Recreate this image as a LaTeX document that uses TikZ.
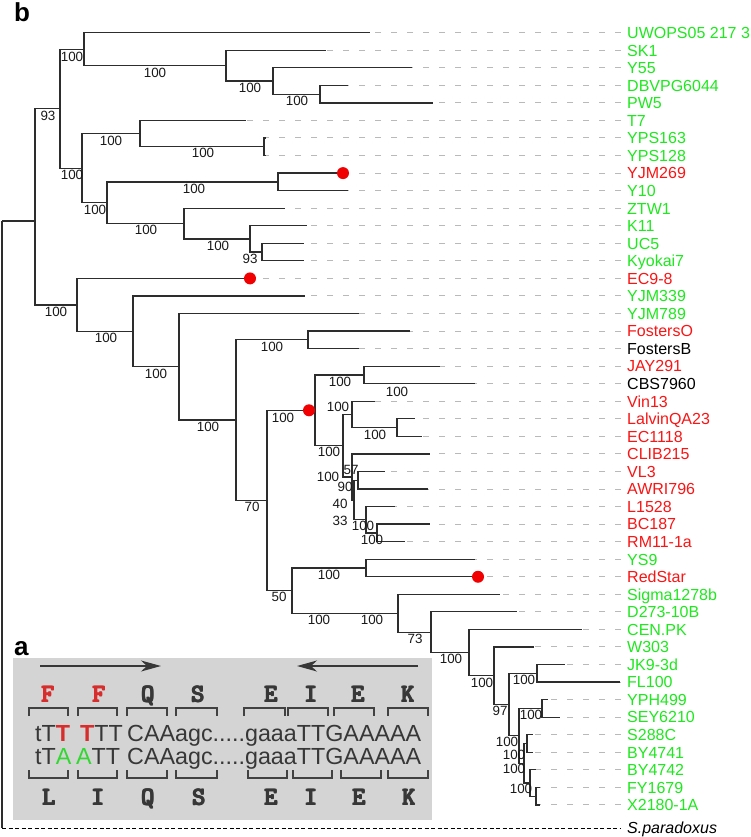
\documentclass[tikz,border=0pt]{standalone}
\usepackage{fontspec}
\setmainfont{Liberation Sans}
\usetikzlibrary{arrows.meta,calc}
\newcommand\fatletter[1]{\rlap{#1}\rlap{\kern0.8pt#1}\rlap{\kern1.6pt#1}\rlap{\raisebox{0.8pt}{#1}}\rlap{\kern0.8pt\raisebox{0.8pt}{#1}}\rlap{\kern1.6pt\raisebox{0.8pt}{#1}}\phantom{#1}}
\definecolor{lg}{RGB}{30,232,30}
\definecolor{lr}{RGB}{250,20,20}
\definecolor{lk}{RGB}{0,0,0}
\definecolor{treec}{RGB}{45,45,45}
\definecolor{dashgrey}{RGB}{185,185,185}
\definecolor{panelbg}{RGB}{212,212,212}
\definecolor{paneltxt}{RGB}{55,55,55}
\definecolor{brkc}{RGB}{65,65,65}
\definecolor{mutred}{RGB}{215,45,45}
\definecolor{mutgreen}{RGB}{50,215,50}
\definecolor{dotred}{RGB}{240,0,0}
\begin{document}
\begin{tikzpicture}[x=1pt,y=-1pt,
  tree/.style={draw=treec,line width=1.25pt},
  leafdash/.style={draw=dashgrey,line width=1pt,dash pattern=on 6pt off 10pt},
  spdash/.style={draw=black,line width=1pt,dash pattern=on 4pt off 2.5pt},
  leaflab/.style={inner sep=0pt,anchor=base west,font=\fontsize{16}{19}\selectfont},
  boot/.style={inner sep=0pt,text=black!90,font=\fontsize{13.4}{15}\selectfont},
  dot/.style={circle,fill=dotred,inner sep=0pt,minimum size=12pt},
  aa/.style={inner sep=0pt,anchor=base,text=paneltxt,font=\fontsize{25}{27}\selectfont\ttfamily},
  seq/.style={inner sep=0pt,anchor=base west,text=paneltxt,text height=16pt,text depth=0pt,font=\fontsize{23.3}{26}\selectfont},
  brk/.style={draw=brkc,line width=2.6pt},
  parr/.style={draw=paneltxt,line width=1.2pt,-{Stealth[length=20pt,width=11pt,inset=6pt]}},
  plabel/.style={inner sep=0pt,anchor=base west,font=\fontsize{26}{28}\selectfont\bfseries}
]
\useasboundingbox (0,0) rectangle (751,837);

% panel label b
\node[plabel] (pb) at (14,22) {b};

% leaves
\foreach \i/\xe/\c/\lab in {
 1/370/lg/UWOPS05 217 3, 2/326/lg/SK1, 3/412/lg/Y55, 4/348/lg/DBVPG6044,
 5/433/lg/PW5, 6/246/lg/T7, 7/266/lg/YPS163, 8/266/lg/YPS128,
 9/343/lr/YJM269, 10/348/lg/Y10, 11/285/lg/ZTW1, 12/307/lg/K11,
 13/304/lg/UC5, 14/304/lg/Kyokai7, 15/250/lr/EC9-8, 16/305/lg/YJM339,
 17/359/lg/YJM789, 18/410/lr/FostersO, 19/359/lk/FostersB, 20/440/lr/JAY291,
 21/475/lk/CBS7960, 22/375/lr/Vin13, 23/415/lr/LalvinQA23, 24/422/lr/EC1118,
 25/430/lr/CLIB215, 26/385/lr/VL3, 27/428/lr/AWRI796, 28/395/lr/L1528,
 29/430/lr/BC187, 30/405/lr/RM11-1a, 31/475/lg/YS9, 32/478/lr/RedStar,
 33/500/lg/Sigma1278b, 34/517/lg/D273-10B, 35/582/lg/CEN.PK, 36/534/lg/W303,
 37/565/lg/JK9-3d, 38/620/lg/FL100, 39/548/lg/YPH499, 40/560/lg/SEY6210,
 41/533/lg/S288C, 42/533/lg/BY4741, 43/536/lg/BY4742, 44/540/lg/FY1679,
 45/540/lg/X2180-1A}{
  \pgfmathsetmacro{\yy}{32.7+(\i-1)*17.55}
  \coordinate (e\i) at (\xe,\yy);
  \coordinate (d\i) at (621,\yy);
  \node[leaflab,text=\c] (l\i) at (627,\yy+5.8) {\lab};
  \draw[leafdash] (d\i) -- (e\i);
}

% internal nodes
\foreach \n/\nx/\ny in {
 G/320/94.13, F/273/80.96, E/226/65.6, C/84/49.15, J/264/146.78, H/140/133.6,
 K/278/181.88, N/262/252.08, M/250/238.9, L/184/223.55, I/107/202.7, D/82/168.15,
 B/60/108.65, S/308/339.83, W/364/374.93, Z/397/427.58, Y/352/414.4,
 AC/358/480.23, AE/377/532.88, AD/366/519.7, AB/354/499.97, AA/352/476.9,
 X/343/445.67, U/315/410.3, AF/366/567.98, AN/542/708.38, AP/527/743.48,
 AR/536/796.13, AQ/530/782.97, AO/524/763.2, AM/519/735.8, AL/537/673.28,
 AK/509/704.5, AJ/494/675.7, AI/469/652.6, AH/431/632.2, AG/398/613.3,
 V/292/590.6, T/267/500.3, R/236/420.1, Q/179/366.8, P/133/331.4,
 O/77/304.9, A/35/221}{
  \coordinate (\n) at (\nx,\ny);
}
\coordinate (root) at (2,221);
\coordinate (rootb) at (2,828);
\coordinate (d46) at (621,828);
\node[leaflab,font=\fontsize{16}{19}\selectfont\itshape] (l46) at (627,833.8) {S.paradoxus};
\draw[spdash] (rootb) -- (d46);

% edges
\draw[tree] (root) -- (rootb);
\draw[tree] (root) -- (A);
\foreach \p/\ch in {
 C/e1, C/E, E/e2, E/F, F/e3, F/G, G/e4, G/e5,
 B/C, B/D, D/H, D/I, H/e6, H/J, J/e7, J/e8,
 I/K, I/L, K/e9, K/e10, L/e11, L/M, M/e12, M/N, N/e13, N/e14,
 A/B, A/O, O/e15, O/P, P/e16, P/Q, Q/e17, Q/R, R/S, R/T, S/e18, S/e19,
 T/U, T/V, U/W, U/X, W/e20, W/e21, X/Y, X/AA, Y/e22, Y/Z, Z/e23, Z/e24,
 AA/e25, AA/AB, AB/AC, AB/AD, AC/e26, AC/e27, AD/e28, AD/AE, AE/e29, AE/e30,
 V/AF, V/AG, AF/e31, AF/e32, AG/e33, AG/AH, AH/e34, AH/AI, AI/e35, AI/AJ,
 AJ/e36, AJ/AK, AK/AL, AK/AM, AL/e37, AL/e38, AM/AN, AM/AO, AN/e39, AN/e40,
 AO/AP, AO/AQ, AP/e41, AP/e42, AQ/e43, AQ/AR, AR/e44, AR/e45}{
  \draw[tree] (\p) |- (\ch);
}

% red dots
\node[dot] (dot9) at (e9) {};
\node[dot] (dot15) at (e15) {};
\node[dot] (dot32) at (e32) {};
\node[dot] (dotU) at ($(U)+(-6,0)$) {};

% bootstrap values
\foreach \bx/\by/\bt [count=\k] in {
 72/57/100, 155/73/100, 250/88/100, 297/101/100, 48/116/93, 111/141/100,
 203/153/100, 72/175/100, 194/189/100, 95/210/100, 146/230/100, 218/246/100,
 250/259/93, 56/312/100, 106/338/100, 156/374/100, 272/347/100, 208/427/100,
 340/382/100, 397/392/100, 338/407/100, 375/435/100, 283/418/100, 329/452/100,
 351/470/57, 328/477/100, 345/487/90, 340/504/40, 340/521/33, 363/526/100,
 372/540/100, 252/507/70, 329/575/100, 279/597/50, 319/620/100, 372/620/100,
 415/639/73, 451/659/100, 482/683/100, 524/680/100, 500/711/97, 531/715/100,
 507/742/100, 514/755/100, 514/769/100, 521/789/100}{
  \node[boot] (bs\k) at (\bx,\by) {\bt};
}

% ---- panel a ----
\node[plabel] (pa) at (14,655) {a};
\fill[panelbg] (13,658) rectangle (432,820);
\coordinate (ar1s) at (40,666);  \coordinate (ar1e) at (161,666);
\coordinate (ar2s) at (418,666); \coordinate (ar2e) at (297,666);
\draw[parr] (ar1s) -- (ar1e);
\draw[parr] (ar2s) -- (ar2e);

\foreach \ax/\al/\ac [count=\k] in {47/F/mutred, 98/F/mutred, 147/Q/paneltxt, 197/S/paneltxt,
  270/E/paneltxt, 310/I/paneltxt, 357/E/paneltxt, 407/K/paneltxt}{
  \node[aa,text=\ac] (top\k) at (\ax,702) {\fatletter{\al}};
}
\foreach \ax/\al [count=\k] in {48/L, 97/I, 147/Q, 198/S, 270/E, 310/I, 358/E, 408/K}{
  \node[aa] (bot\k) at (\ax,805) {\fatletter{\al}};
}
\foreach \xa/\xb in {29/68,78/117,127/167,176/217,244/285,288/328,334/374,388/428}{
  \draw[brk] (\xa,716) -- (\xa,708) -- (\xb,708) -- (\xb,716);
}
\foreach \xa/\xb in {29/68,78/117,127/167,176/217,248/287,293/332,341/381,388/428}{
  \draw[brk] (\xa,770) -- (\xa,778) -- (\xb,778) -- (\xb,770);
}
\node[seq] (s1a) at (35,741) {tT\textcolor{mutred}{\bfseries T}};
\node[seq] (s1b) at (80,741) {\textcolor{mutred}{\bfseries T}TT};
\node[seq] (s1c) at (127,741) {CAAagc.....gaaaTTGAAAAA};
\node[seq] (s2a) at (35,764) {tT\textcolor{mutgreen}{A}};
\node[seq] (s2b) at (76,764) {\textcolor{mutgreen}{A}TT};
\node[seq] (s2c) at (127,764) {CAAagc.....gaaaTTGAAAAA};
\end{tikzpicture}
\end{document}
